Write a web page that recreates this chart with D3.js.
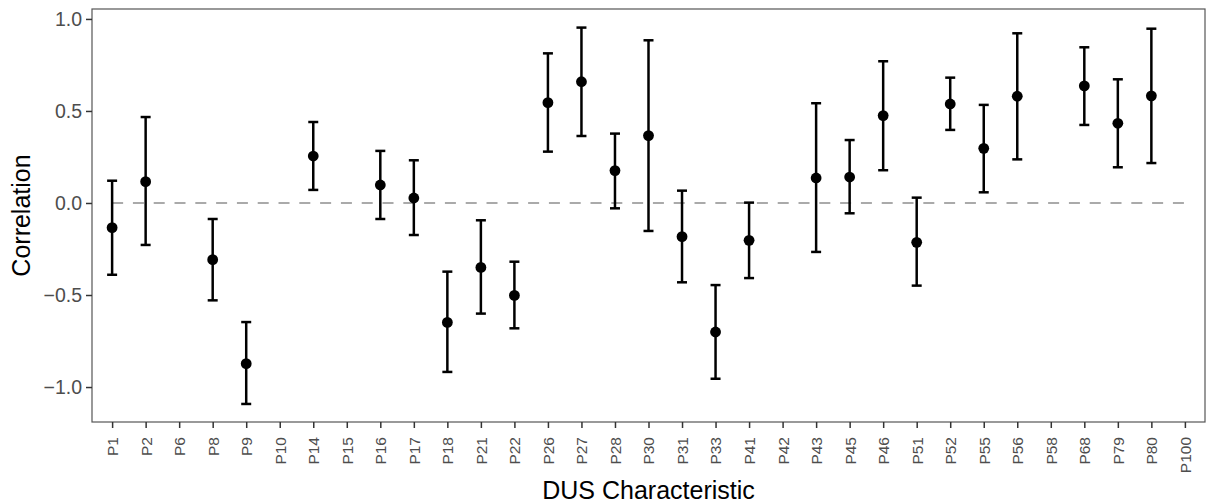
<!DOCTYPE html>
<html>
<head>
<meta charset="utf-8">
<script src="https://cdn.jsdelivr.net/npm/d3@7"></script>
<style>
  body { margin: 0; background: #fff; }
  svg { display: block; font-family: "Liberation Sans", Arial, sans-serif; }
</style>
</head>
<body>
<div id="chart-area"></div>
<script>
// categories on the x axis
var traits = ['P1', 'P2', 'P6', 'P8', 'P9', 'P10', 'P14', 'P15', 'P16', 'P17', 'P18', 'P21',
    'P22', 'P26', 'P27', 'P28', 'P30', 'P31', 'P33', 'P41', 'P42', 'P43', 'P45', 'P46',
    'P51', 'P52', 'P55', 'P56', 'P58', 'P68', 'P79', 'P80', 'P100']

// estimates and confidence limits (null = no estimate)
var est = [-0.134, 0.116, null, -0.308, -0.873, null, 0.255, null, 0.098, 0.027, -0.649, -0.35,
    -0.502, 0.545, 0.659, 0.176, 0.366, -0.183, -0.701, -0.203, null, 0.136, 0.141, 0.475,
    -0.214, 0.538, 0.297, 0.580, null, 0.636, 0.433, 0.582, null]
var lower = [-0.39, -0.228, null, -0.529, -1.092, null, 0.071, null, -0.087, -0.174, -0.918, -0.601,
    -0.681, 0.279, 0.364, -0.029, -0.152, -0.431, -0.955, -0.408, null, -0.266, -0.056, 0.178,
    -0.449, 0.397, 0.058, 0.237, null, 0.424, 0.194, 0.217, null]
var upper = [0.121, 0.467, null, -0.087, -0.647, null, 0.44, null, 0.283, 0.232, -0.373, -0.094,
    -0.319, 0.813, 0.953, 0.377, 0.884, 0.067, -0.446, 0.002, null, 0.542, 0.342, 0.770,
    0.029, 0.681, 0.533, 0.922, null, 0.846, 0.672, 0.947, null]

var yTicks = [-1.0, -0.5, 0.0, 0.5, 1.0]

var data = traits.map((t, i) => ({ trait: t, r: est[i], lo: lower[i], hi: upper[i] }))
    .filter(d => d.r !== null)

var margin = { left: 92, right: 1, top: 9, bottom: 82 }
var width = 1206 - margin.left - margin.right
var height = 504 - margin.top - margin.bottom

var svg = d3.select('#chart-area')
    .append('svg')
        .attr('width', 1206)
        .attr('height', 504)

var g = svg.append('g')
    .attr('transform', `translate(${margin.left}, ${margin.top})`)

// X Scale
var x = d3.scalePoint()
    .domain(traits)
    .range([0, width])
    .padding(0.6)

// Y Scale
var y = d3.scaleLinear()
    .domain([-1.19, 1.054])
    .range([height, 0])

// zero line
g.append('line')
    .attr('x1', x(traits[0]))
    .attr('x2', x(traits[traits.length - 1]))
    .attr('y1', y(0))
    .attr('y2', y(0))
    .attr('stroke', '#aaaaaa')
    .attr('stroke-width', 2.2)
    .attr('stroke-dasharray', '11 9.8')

// error bars
var capW = 10
var bars = g.selectAll('.bar')
    .data(data)
    .enter().append('g')
        .attr('class', 'bar')
        .attr('stroke', '#000')
        .attr('stroke-width', 2.5)

bars.append('line')
    .attr('x1', d => x(d.trait))
    .attr('x2', d => x(d.trait))
    .attr('y1', d => y(d.lo))
    .attr('y2', d => y(d.hi))

bars.append('line')
    .attr('x1', d => x(d.trait) - capW / 2)
    .attr('x2', d => x(d.trait) + capW / 2)
    .attr('y1', d => y(d.hi))
    .attr('y2', d => y(d.hi))

bars.append('line')
    .attr('x1', d => x(d.trait) - capW / 2)
    .attr('x2', d => x(d.trait) + capW / 2)
    .attr('y1', d => y(d.lo))
    .attr('y2', d => y(d.lo))

// points
g.selectAll('circle')
    .data(data)
    .enter().append('circle')
        .attr('cx', d => x(d.trait))
        .attr('cy', d => y(d.r))
        .attr('r', 5.4)
        .attr('fill', '#000')

// panel border
g.append('rect')
    .attr('width', width)
    .attr('height', height)
    .attr('fill', 'none')
    .attr('stroke', '#555')
    .attr('stroke-width', 1.2)

// X Axis
var xAxisGroup = g.append('g')
    .attr('transform', `translate(0, ${height})`)
    .call(d3.axisBottom(x).tickSize(6).tickPadding(9))
xAxisGroup.select('.domain').remove()
xAxisGroup.selectAll('.tick line').attr('stroke', '#333').attr('stroke-width', 1.5)
xAxisGroup.selectAll('.tick text')
    .attr('fill', '#4d4d4d')
    .attr('font-size', '15.5px')
    .attr('text-anchor', 'end')
    .attr('transform', 'rotate(-90)')
    .attr('x', -15)
    .attr('y', 0)
    .attr('dy', '0.35em')

// Y Axis
var yAxisGroup = g.append('g')
    .call(d3.axisLeft(y).tickValues(yTicks).tickFormat(d3.format('.1f')).tickSize(6).tickPadding(4))
yAxisGroup.select('.domain').remove()
yAxisGroup.selectAll('.tick line').attr('stroke', '#333').attr('stroke-width', 1.5)
yAxisGroup.selectAll('.tick text')
    .attr('fill', '#4d4d4d')
    .attr('font-size', '19.5px')

// x label
svg.append('text')
    .attr('x', margin.left + width / 2)
    .attr('y', 499)
    .attr('font-size', '25px')
    .attr('text-anchor', 'middle')
    .attr('fill', '#000')
    .text('DUS Characteristic')

// y label
svg.append('text')
    .attr('x', -(margin.top + height / 2))
    .attr('y', 30)
    .attr('font-size', '25px')
    .attr('text-anchor', 'middle')
    .attr('transform', 'rotate(-90)')
    .attr('fill', '#000')
    .text('Correlation')
</script>
</body>
</html>
